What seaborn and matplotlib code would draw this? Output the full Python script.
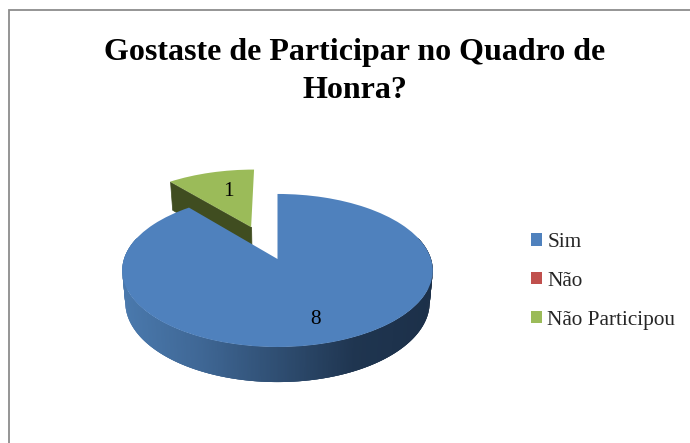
import numpy as np
import matplotlib
matplotlib.use("Agg")
import matplotlib.pyplot as plt
import seaborn as sns
from matplotlib.collections import PolyCollection
from matplotlib.colors import LinearSegmentedColormap
from matplotlib.transforms import Affine2D, Transform

title_lines = ["Gostaste de Participar no Quadro de", "Honra?"]
categories = ["Sim", "Não", "Não Participou"]
values = [8, 0, 1]
colors = ["#4f81bd", "#c0504d", "#9bbb59"]
explode = [0, 0, 0.486]

sns.set_theme(style="white")
plt.rcParams["font.family"] = ["Liberation Serif", "DejaVu Serif"]

CX, CY, RX, B, K = 277.5, 259.0, 153.5, 74.8, 0.15
DEPTH, SHRINK = 31.3, 0.98
SMALL_SHIFT = -2.5


def project(pts, layer=0.0):
    """Tilted-disc perspective from pie coordinates to pixel coordinates."""
    pts = np.asarray(pts, dtype=float)
    u, v = pts[..., 0], pts[..., 1]
    w = 1 + K * v
    s = 1 - (1 - SHRINK) * layer
    return np.stack([CX + s * RX * u / w,
                     CY - s * B * v / w + layer * DEPTH / w], axis=-1)


class Tilt(Transform):
    input_dims = 2
    output_dims = 2
    is_separable = False
    has_inverse = False

    def transform_non_affine(self, values):
        return project(values)


fig = plt.figure(figsize=(6.9, 4.43), dpi=100, facecolor="white")
ax = fig.add_axes([0, 0, 1, 1])
wedges, _ = ax.pie(values, colors=colors, explode=explode, startangle=90,
                   counterclock=False, radius=1, frame=False,
                   wedgeprops={"linewidth": 0})
ax.set_aspect("auto")
ax.set_xlim(0, 690)
ax.set_ylim(443, 0)
ax.axis("off")

tilt = Tilt() + ax.transData
for w in wedges:
    w.set_transform(tilt)
    w.set_clip_on(False)
wedges[2].set_transform(Tilt() + Affine2D().translate(SMALL_SHIFT, 0) + ax.transData)
wedges[0].set_zorder(6)
wedges[2].set_zorder(3)

# Outer wall of the large slice, shaded left to right
wall = LinearSegmentedColormap.from_list(
    "wall", ["#4a79ad", "#3f6795", "#2f4e72", "#1f3550", "#1c3049"])
big = wedges[0]
angles = np.radians(np.linspace(big.theta1, big.theta2, 721))
angles = angles[np.sin(angles) < 0.3]
rim = np.stack([np.cos(angles), np.sin(angles)], axis=-1)
top, bottom = project(rim, 0), project(rim, 1)
quads = [[top[i], top[i + 3], bottom[i + 3], bottom[i]] for i in range(len(top) - 3)]
shade = (top[:-3, 0] - top[:, 0].min()) / np.ptp(top[:, 0])
side = PolyCollection(quads, array=shade, cmap=wall, clim=(0, 1), zorder=5,
                      linewidth=0, edgecolor="none")
ax.add_collection(side)

# Visible cut face of the pulled-out slice
small = wedges[2]
apex = np.array(small.center)
end = apex + [np.cos(np.radians(small.theta2)), np.sin(np.radians(small.theta2))]
face = np.array([project(apex, 0), project(end, 0), project(end, 1), project(apex, 1)])
face[:, 0] += SMALL_SHIFT
ax.add_collection(PolyCollection([face], facecolor="#404d20", edgecolor="#404d20",
                                 linewidth=0.5, zorder=2))

ax.text(315.5, 320, str(values[0]), fontsize=15.3, color="black",
        ha="center", va="center", zorder=8)
ax.text(228.5, 191, str(values[2]), fontsize=15.3, color="black",
        ha="center", va="center", zorder=8)

ax.text(355, 52.5, title_lines[0], fontsize=23, fontweight="bold", color="black",
        ha="center", va="center")
ax.text(355, 90.5, title_lines[1], fontsize=23, fontweight="bold", color="black",
        ha="center", va="center")

leg = ax.legend(wedges, categories, loc="upper left",
                bbox_to_anchor=(531 / 690, 1 - 233 / 443),
                bbox_transform=ax.transAxes, frameon=False, fontsize=15.3,
                handlelength=0.52, handleheight=0.52, handletextpad=0.24,
                labelspacing=0.93, borderpad=0, borderaxespad=0)
leg.set_zorder(9)

ax.plot([9, 9, 690], [443, 9.5, 9.5], color="#8c8c8c", lw=1.3,
        solid_joinstyle="miter", clip_on=False, zorder=1)

fig.savefig("out.png", dpi=100)
